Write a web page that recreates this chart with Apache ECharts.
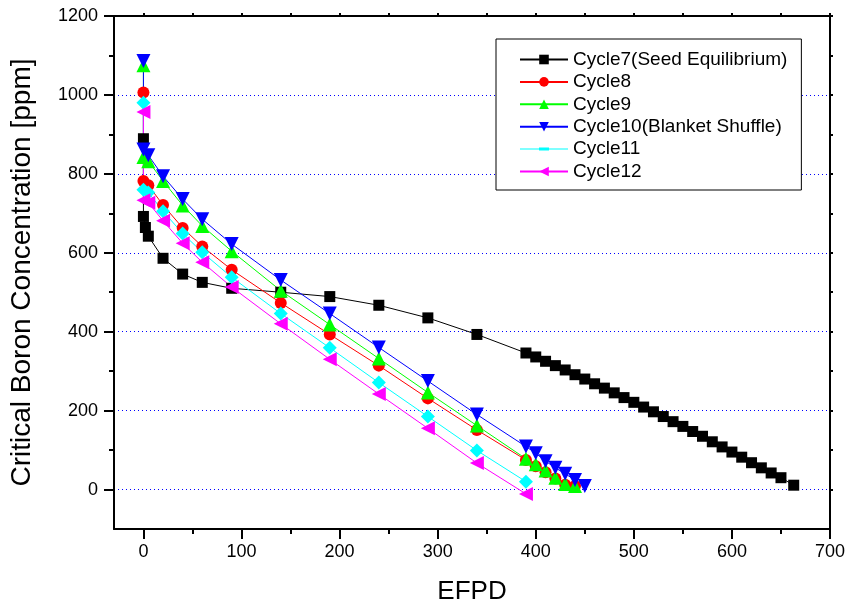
<!DOCTYPE html>
<html>
<head>
<meta charset="utf-8">
<title>Critical Boron Concentration vs EFPD</title>
<script src="https://cdn.jsdelivr.net/npm/echarts@6/dist/echarts.min.js"></script>
<style>
  html, body { margin: 0; padding: 0; background: #ffffff; }
  #chart { width: 850px; height: 610px; }
</style>
</head>
<body>
<div id="chart"></div>
<script>
// Boron letdown curves per cycle: EFPD (x) and critical boron in ppm (y)
const cycle7X = [0, 0, 2, 5, 20, 40, 60, 90, 140, 190, 240, 290, 340,
  390, 400, 410, 420, 430, 440, 450, 460, 470, 480, 490, 500, 510, 520, 530,
  540, 550, 560, 570, 580, 590, 600, 610, 620, 630, 640, 650, 663];
const cycle7Y = [889, 692, 664, 642, 586, 546, 525, 510, 500, 489, 467, 435, 393,
  346, 336, 325, 314, 303, 291, 280, 268, 257, 245, 233, 221, 209, 197, 185,
  172, 160, 147, 135, 121, 108, 95, 82, 68, 55, 42, 30, 11];

const cycle8X = [0, 0, 5, 20, 40, 60, 90, 140, 190, 240, 290, 340, 390, 400, 410, 420, 430, 440];
const cycle8Y = [1006, 782, 771, 721, 663, 616, 557, 473, 393, 314, 231, 151, 75, 59, 44, 28, 12, 9];

const cycle9X = [0, 0, 5, 20, 40, 60, 90, 140, 190, 240, 290, 340, 390, 400, 410, 420, 430, 440];
const cycle9Y = [1075, 843, 832, 782, 720, 668, 604, 504, 418, 332, 246, 162, 78, 64, 48, 30, 14, 9];

const cycle10X = [0, 0, 5, 20, 40, 60, 90, 140, 190, 240, 290, 340, 390, 400, 410, 420, 430, 440, 450];
const cycle10Y = [1086, 862, 847, 794, 736, 685, 622, 531, 446, 360, 275, 190, 109, 92, 72, 55, 40, 24, 9];

const cycle11X = [0, 0, 5, 20, 40, 60, 90, 140, 190, 240, 290, 340, 390];
const cycle11Y = [980, 760, 753, 705, 649, 601, 538, 446, 359, 271, 185, 99, 20];

const cycle12X = [0, 0, 5, 20, 40, 60, 90, 140, 190, 240, 290, 340, 390];
const cycle12Y = [957, 733, 727, 681, 624, 576, 513, 420, 330, 242, 155, 67, -11];

const seriesNames = ['Cycle7(Seed Equilibrium)', 'Cycle8', 'Cycle9',
  'Cycle10(Blanket Shuffle)', 'Cycle11', 'Cycle12'];

// Tick positions
const xMajorTicks = [0, 100, 200, 300, 400, 500, 600, 700];
const xMinorTicks = [50, 150, 250, 350, 450, 550, 650];
const xTopTicks = [0, 50, 100, 150, 200, 250, 300, 350, 400, 450, 500, 550, 600, 650, 700];
const yMajorTicks = [0, 200, 400, 600, 800, 1000, 1200];
const yMinorTicks = [100, 300, 500, 700, 900, 1100];
const yRightTicks = [0, 100, 200, 300, 400, 500, 600, 700, 800, 900, 1000, 1100, 1200];

const FONT = 'Liberation Sans, Arial, sans-serif';

function pairs(xs, ys) {
  return xs.map((x, i) => [x, ys[i]]);
}

const styles = [
  { color: '#000000', symbol: 'rect', size: 11, rotate: 0 },
  { color: '#ff0000', symbol: 'circle', size: 12, rotate: 0 },
  { color: '#00ff00', symbol: 'triangle', size: 14, rotate: 0 },
  { color: '#0000ff', symbol: 'triangle', size: 14, rotate: 180 },
  { color: '#00ffff', symbol: 'diamond', size: 14, rotate: 0 },
  { color: '#ff00ff', symbol: 'triangle', size: 14, rotate: 90 }
];

const allData = [
  pairs(cycle7X, cycle7Y), pairs(cycle8X, cycle8Y), pairs(cycle9X, cycle9Y),
  pairs(cycle10X, cycle10Y), pairs(cycle11X, cycle11Y), pairs(cycle12X, cycle12Y)
];

const series = allData.map((d, i) => ({
  name: seriesNames[i],
  type: 'line',
  xAxisIndex: 0,
  yAxisIndex: 0,
  data: d,
  symbol: styles[i].symbol,
  symbolSize: styles[i].size,
  symbolRotate: styles[i].rotate,
  lineStyle: { color: styles[i].color, width: 1 },
  itemStyle: { color: styles[i].color },
  emphasis: { disabled: true }
}));

const axisBlack = { show: true, onZero: false, lineStyle: { color: '#000', width: 2 } };
const noAxisLine = { show: false, onZero: false };
const plainNumber = v => String(v);

const chart = echarts.init(document.getElementById('chart'), null, { renderer: 'canvas' });
chart.setOption({
  animation: false,
  backgroundColor: '#ffffff',
  grid: { left: 114, right: 20, top: 16, bottom: 79, containLabel: false },
  legend: {
    orient: 'vertical',
    left: 496,
    top: 39,
    padding: [11, 14, 9, 23],
    itemWidth: 48,
    itemHeight: 12,
    itemGap: 3.4,
    backgroundColor: '#ffffff',
    borderColor: '#000000',
    borderWidth: 1,
    textStyle: { fontFamily: FONT, fontSize: 19, color: '#000', lineHeight: 19 },
    data: seriesNames.map((n, i) => i === 4
      ? { name: n, icon: 'path://M0,1H19V0H29V1H48V2H29V3H19V2H0Z' }
      : { name: n })
  },
  xAxis: [
    {
      type: 'value', position: 'bottom', min: -30, max: 700, interval: 10,
      name: 'EFPD', nameLocation: 'middle', nameGap: 50,
      nameTextStyle: { fontFamily: FONT, fontSize: 26, color: '#000' },
      axisLine: axisBlack,
      axisTick: { show: true, inside: false, length: 10, customValues: xMajorTicks,
        lineStyle: { color: '#000', width: 2 } },
      axisLabel: { show: true, customValues: xMajorTicks, margin: 14, formatter: plainNumber,
        fontFamily: FONT, fontSize: 18, color: '#000' },
      splitLine: { show: false }
    },
    {
      type: 'value', position: 'bottom', min: -30, max: 700, interval: 10,
      axisLine: noAxisLine,
      axisTick: { show: true, inside: false, length: 5, customValues: xMinorTicks,
        lineStyle: { color: '#000', width: 2 } },
      axisLabel: { show: false },
      splitLine: { show: false }
    },
    {
      type: 'value', position: 'top', min: -30, max: 700, interval: 10,
      axisLine: axisBlack,
      axisTick: { show: true, inside: false, length: 3, customValues: xTopTicks,
        lineStyle: { color: '#000', width: 2 } },
      axisLabel: { show: false },
      splitLine: { show: false }
    }
  ],
  yAxis: [
    {
      type: 'value', position: 'left', min: -100, max: 1200, interval: 100,
      name: 'Critical Boron Concentration [ppm]', nameLocation: 'middle', nameGap: 78,
      nameTextStyle: { fontFamily: FONT, fontSize: 28, color: '#000' },
      axisLine: axisBlack,
      axisTick: { show: true, inside: false, length: 10, customValues: yMajorTicks,
        lineStyle: { color: '#000', width: 2 } },
      axisLabel: { show: true, customValues: yMajorTicks, margin: 16, formatter: plainNumber,
        fontFamily: FONT, fontSize: 18, color: '#000' },
      splitLine: { show: true, lineStyle: { color: '#0000ff', width: 1, type: [1, 3] } }
    },
    {
      type: 'value', position: 'left', min: -100, max: 1200, interval: 100,
      axisLine: noAxisLine,
      axisTick: { show: true, inside: false, length: 5, customValues: yMinorTicks,
        lineStyle: { color: '#000', width: 2 } },
      axisLabel: { show: false },
      splitLine: { show: false }
    },
    {
      type: 'value', position: 'right', min: -100, max: 1200, interval: 100,
      axisLine: axisBlack,
      axisTick: { show: true, inside: false, length: 3, customValues: yRightTicks,
        lineStyle: { color: '#000', width: 2 } },
      axisLabel: { show: false },
      splitLine: { show: false }
    }
  ],
  series: series
});
</script>
</body>
</html>
